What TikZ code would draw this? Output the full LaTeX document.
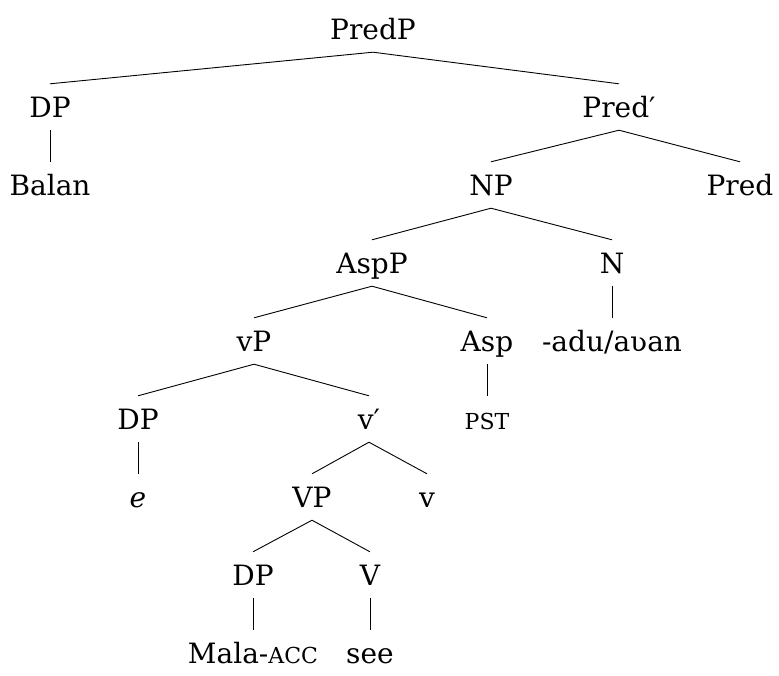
\documentclass[tikz,border=0pt]{standalone}
\usepackage{fontspec}
\setmainfont{DejaVu Serif}
\newcommand{\smc}[1]{{\fontsize{22}{26}\selectfont #1}}
\begin{document}
\begin{tikzpicture}[x=1pt,y=-1pt,
  lab/.style={anchor=base,inner sep=0pt,text height=33pt,text depth=13pt,
    font=\fontsize{28}{33}\selectfont},
  br/.style={line width=0.9pt}]
\useasboundingbox (0,0) rectangle (779,675);
% rows: baseline = 39 + 78 i
\node[lab] (predp) at (373,39) {PredP};
\node[lab] (dp1) at (50,117) {DP};
\node[lab] (predbar) at (619,117) {Pred′};
\node[lab] (balan) at (50,195) {Balan};
\node[lab] (np) at (491,195) {NP};
\node[lab] (pred) at (740,195) {Pred};
\node[lab] (aspp) at (372,273) {AspP};
\node[lab] (n) at (612,273) {N};
\node[lab] (vp) at (254,351) {vP};
\node[lab] (asp) at (487,351) {Asp};
\node[lab] (adu) at (612,351) {-adu/aʋan};
\node[lab] (dp2) at (138,429) {DP};
\node[lab] (vbar) at (369,429) {v′};
\node[lab] (pst) at (487,429) {\smc{PST}};
\node[lab] (e) at (138,507) {\itshape e};
\node[lab] (VP) at (312,507) {VP};
\node[lab] (v) at (427,507) {v};
\node[lab] (dp3) at (253,585) {DP};
\node[lab] (V) at (370,585) {V};
\node[lab] (mala) at (253,663) {Mala-\smc{ACC}};
\node[lab] (see) at (370,663) {see};
\draw[br] (predp.south) -- (dp1.north);
\draw[br] (predp.south) -- (predbar.north);
\draw[br] (dp1.south) -- (balan.north);
\draw[br] (predbar.south) -- (np.north);
\draw[br] (predbar.south) -- (pred.north);
\draw[br] (np.south) -- (aspp.north);
\draw[br] (np.south) -- (n.north);
\draw[br] (aspp.south) -- (vp.north);
\draw[br] (aspp.south) -- (asp.north);
\draw[br] (n.south) -- (adu.north);
\draw[br] (vp.south) -- (dp2.north);
\draw[br] (vp.south) -- (vbar.north);
\draw[br] (asp.south) -- (pst.north);
\draw[br] (dp2.south) -- (e.north);
\draw[br] (vbar.south) -- (VP.north);
\draw[br] (vbar.south) -- (v.north);
\draw[br] (VP.south) -- (dp3.north);
\draw[br] (VP.south) -- (V.north);
\draw[br] (dp3.south) -- (mala.north);
\draw[br] (V.south) -- (see.north);
\end{tikzpicture}
\end{document}
